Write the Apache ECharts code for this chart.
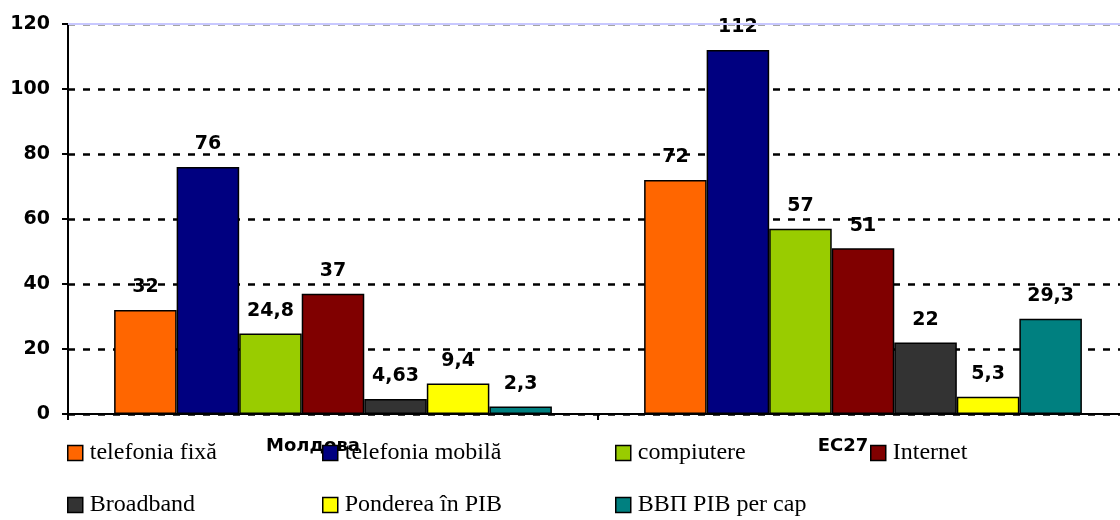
<!DOCTYPE html>
<html>
<head>
<meta charset="utf-8">
<script src="https://cdn.jsdelivr.net/npm/echarts@6/dist/echarts.min.js"></script>
<style>html,body{margin:0;padding:0;background:#fff;overflow:hidden;width:1120px;height:520px}#c{width:1140px;height:520px}</style>
</head>
<body>
<div id="c"></div>
<script>
const categories = ['Молдова', 'EC27'];
const seriesNames = ['telefonia fixă', 'telefonia mobilă', 'compiutere', 'Internet', 'Broadband', 'Ponderea în PIB', 'ВВП PIB per cap'];
const telefoniaFixa = [32, 72];
const telefoniaMobila = [76, 112];
const compiutere = [24.8, 57];
const internet = [37, 51];
const broadband = [4.63, 22];
const ponderea = [9.4, 5.3];
const vvpPerCap = [2.3, 29.3];
const yTicks = [0, 20, 40, 60, 80, 100, 120];

const seriesValues = [telefoniaFixa, telefoniaMobila, compiutere, internet, broadband, ponderea, vvpPerCap];
const colors = ['#FF6600', '#000080', '#99CC00', '#800000', '#333333', '#FFFF00', '#008080'];
const legendPos = [[67, 441], [322, 441], [615, 441], [870, 441], [67, 493], [322, 493], [615, 493]];

const chart = echarts.init(document.getElementById('c'));
const series = seriesNames.map((name, i) => {
  const s = {
    name: name,
    type: 'bar',
    data: seriesValues[i],
    barGap: '0%',
    barCategoryGap: '17.4%',
    itemStyle: { color: colors[i], borderColor: '#000', borderWidth: 1.5 },
    label: {
      show: true,
      position: 'top',
      distance: 13,
      fontFamily: 'DejaVu Sans',
      fontWeight: 'bold',
      fontSize: 19,
      color: '#000',
      formatter: p => String(p.value).replace('.', ',')
    }
  };
  if (i === 0) {
    s.markLine = {
      silent: true,
      symbol: 'none',
      label: { show: false },
      lineStyle: { color: '#c8c8ff', type: 'solid', width: 2 },
      data: [{ yAxis: yTicks[yTicks.length - 1] }]
    };
  }
  return s;
});

const legends = seriesNames.map((name, i) => ({
  data: [name],
  left: legendPos[i][0],
  top: legendPos[i][1],
  padding: 0,
  icon: 'rect',
  itemWidth: 15,
  itemHeight: 15,
  itemStyle: { borderColor: '#000', borderWidth: 1.5 },
  textStyle: { fontFamily: 'Liberation Serif', fontSize: 24, color: '#000', padding: [0, 0, 0, 2] },
  selectedMode: false
}));

chart.setOption({
  animation: false,
  color: colors,
  legend: legends,
  grid: { left: 68, top: 24, width: 1060, bottom: 106, containLabel: false },
  xAxis: {
    type: 'category',
    data: categories,
    axisLine: { lineStyle: { color: '#000', width: 2 } },
    axisTick: { show: true, length: 6, lineStyle: { color: '#000', width: 2 } },
    axisLabel: {
      margin: 23,
      fontFamily: 'DejaVu Sans',
      fontWeight: 'bold',
      fontSize: 18,
      color: '#000',
      padding: [0, 40, 0, 0]
    }
  },
  yAxis: {
    type: 'value',
    min: yTicks[0],
    max: yTicks[yTicks.length - 1],
    interval: 20,
    axisLine: { show: true, lineStyle: { color: '#000', width: 2 } },
    axisTick: { show: true, length: 6, lineStyle: { color: '#000', width: 2 } },
    axisLabel: {
      margin: 18,
      fontFamily: 'DejaVu Sans',
      fontWeight: 'bold',
      fontSize: 19,
      color: '#000'
    },
    splitLine: {
      show: true,
      lineStyle: {
        color: ['#000', '#000', '#000', '#000', '#000', '#000', '#888'],
        type: [7, 8],
        width: 2.5
      }
    }
  },
  series: series
});
</script>
</body>
</html>
